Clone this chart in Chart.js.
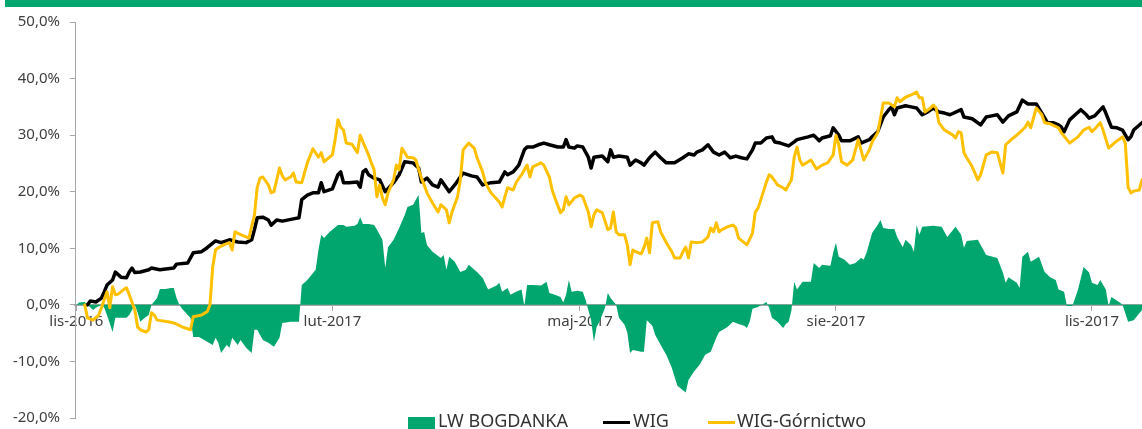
<!DOCTYPE html>
<html lang="pl">
<head>
<meta charset="utf-8">
<title>LW Bogdanka na tle WIG</title>
<script src="https://cdn.jsdelivr.net/npm/chart.js@4.4.1/dist/chart.umd.min.js"></script>
<style>
  html, body { margin: 0; padding: 0; background: #fff; overflow: hidden; }
  #wrap { position: relative; width: 1142px; height: 429px; overflow: hidden; font-family: "Noto Sans", sans-serif; }
  #topbar { position: absolute; left: 5px; top: 0; width: 1137px; height: 7px; background: #00A66E; }
  canvas { position: absolute; left: 0; top: 0; }
  .lg { position: absolute; top: 411px; font-size: 18px; line-height: 18px; color: #333; white-space: nowrap; }
  .mark { position: absolute; }
</style>
</head>
<body>
<div id="wrap">
  <canvas id="chart" width="1142" height="429"></canvas>
  <div id="topbar"></div>
  <div class="mark" style="left:408px; top:417px; width:27px; height:14px; background:#00A66E;"></div>
  <div class="lg" style="left:438px;">LW BOGDANKA</div>
  <div class="mark" style="left:603px; top:421px; width:27px; height:3px; background:#000;"></div>
  <div class="lg" style="left:633px;">WIG</div>
  <div class="mark" style="left:708px; top:421px; width:27px; height:3px; background:#FFC000;"></div>
  <div class="lg" style="left:737px;">WIG-Górnictwo</div>
</div>
<script>
// dni liczone od 2016-11-01 (dzień 0)
const tickDays = [0, 92, 181, 273, 365];
const tickLabels = ["lis-2016", "lut-2017", "maj-2017", "sie-2017", "lis-2017"];

// LW BOGDANKA - stopa zwrotu (%)
const bogDays = [0, 1, 3, 4, 6, 7, 9, 10, 11, 13, 14, 16, 18, 19, 20, 21, 22, 23, 24, 26, 27, 29, 30, 32, 34, 35, 36, 37, 38, 40,
  41, 42, 44, 46, 47, 49, 50, 51, 52, 54, 55, 56, 58, 59, 61, 63, 64, 65, 67, 69, 71, 73, 74, 77, 80, 81, 83, 86, 87, 88,
  89, 91, 94, 96, 97, 100, 101, 102, 103, 105, 107, 108, 110, 111, 112, 114, 116, 118, 119, 121, 122, 123, 124, 125, 126, 128, 131, 132, 133, 134,
  136, 138, 140, 141, 144, 146, 148, 151, 152, 153, 155, 156, 158, 160, 161, 162, 164, 167, 169, 170, 172, 174, 175, 176, 177, 178, 180, 182, 183, 185,
  186, 187, 188, 190, 191, 192, 194, 195, 197, 198, 199, 200, 203, 204, 205, 207, 208, 210, 212, 214, 216, 219, 220, 222, 224, 226, 228, 230, 231, 234,
  236, 238, 240, 241, 242, 243, 245, 247, 248, 249, 250, 252, 254, 255, 256, 257, 258, 259, 261, 264, 265, 267, 268, 271, 272, 273, 274, 276, 278, 280,
  282, 283, 284, 286, 288, 289, 290, 292, 294, 295, 297, 298, 300, 301, 302, 303, 304, 308, 311, 313, 316, 318, 319, 320, 324, 327, 331, 333, 334, 335,
  338, 339, 340, 342, 343, 346, 348, 350, 352, 353, 355, 356, 358, 360, 362, 364, 365, 367, 368, 370, 371, 372, 375, 376, 378, 380, 383];
const bogdanka = [0.0, 0.4, 0.5, 0.0, -0.9, -0.5, 0.0, -0.5, -1.8, -4.8, -2.3, -2.3, -2.3, -1.8, -0.9, 0.0, -1.4, -3.0, -2.5, -1.8, 0.0, 1.2, 2.8, 2.8, 3.0, 3.0, 1.2, 0.0, -0.7, -1.8,
  -2.3, -5.7, -5.7, -6.2, -6.5, -7.1, -5.8, -6.7, -8.5, -7.1, -7.6, -5.8, -7.1, -6.2, -7.6, -8.5, -4.4, -4.4, -6.2, -6.7, -7.4, -5.8, -3.2, -3.0, -3.0, 3.5, 4.4, 6.2, 9.7, 12.4,
  11.8, 12.9, 14.1, 14.1, 13.8, 14.0, 14.3, 15.5, 14.3, 14.3, 14.1, 13.3, 11.5, 6.5, 10.2, 11.5, 13.6, 15.9, 17.3, 17.7, 18.6, 19.4, 12.7, 12.9, 10.6, 9.4, 8.3, 8.8, 6.2, 8.5,
  7.6, 5.8, 6.2, 7.1, 5.8, 4.8, 2.7, 3.4, 3.9, 2.3, 3.0, 1.8, 2.3, 2.7, -0.2, 3.5, 3.5, 3.4, 4.1, 2.1, 1.8, 1.4, 0.4, 1.8, 4.4, 2.3, 2.5, 2.3, 0.9, -2.7,
  -6.5, -3.9, -3.0, -0.5, 2.1, 1.2, 0.0, -2.3, -3.5, -4.9, -8.5, -8.0, -8.3, -8.3, -2.7, -3.7, -5.3, -7.1, -8.8, -11.1, -14.3, -15.5, -13.3, -11.8, -10.6, -8.8, -8.3, -5.8, -4.8, -3.9,
  -3.0, -3.4, -3.7, -4.1, -3.0, -0.7, -0.4, 0.2, 0.5, -0.5, -2.3, -3.0, -4.1, -3.4, -3.0, -1.0, 4.1, 2.7, 4.1, 4.1, 7.4, 6.5, 7.1, 6.9, 9.2, 11.0, 8.5, 8.0, 7.1, 7.4,
  8.3, 8.0, 9.2, 12.7, 14.1, 15.0, 13.6, 13.4, 13.4, 12.0, 10.2, 11.5, 10.6, 9.4, 14.1, 12.4, 13.8, 14.0, 13.8, 12.0, 13.8, 12.4, 10.1, 11.3, 11.5, 8.8, 8.3, 5.7, 3.9, 4.9,
  3.9, 3.0, 8.5, 9.4, 7.6, 8.5, 5.8, 4.9, 4.4, 2.7, 2.3, -0.2, -0.2, 2.7, 6.7, 5.7, 3.9, 3.5, 4.4, 2.7, -0.2, 1.4, 0.4, 0.0, -3.0, -2.7, -0.9];

// WIG (%)
const wigDays = [4, 5, 7, 9, 10, 11, 13, 14, 16, 18, 19, 20, 21, 23, 26, 27, 30, 35, 36, 40, 42, 45, 47, 50, 52, 55, 58, 61, 63, 64,
  65, 67, 69, 70, 72, 74, 78, 80, 81, 83, 85, 87, 88, 89, 92, 94, 95, 96, 98, 101, 102, 103, 104, 105, 107, 109, 111, 114, 116, 118,
  121, 123, 124, 126, 128, 130, 131, 132, 134, 136, 139, 142, 144, 146, 149, 152, 154, 155, 157, 159, 161, 162, 164, 166, 168, 170, 173, 175, 176, 177,
  179, 180, 182, 184, 185, 186, 189, 191, 192, 193, 195, 198, 199, 201, 203, 204, 206, 208, 210, 212, 215, 218, 220, 222, 223, 225, 227, 229, 231, 233,
  235, 237, 239, 241, 243, 244, 246, 248, 250, 251, 253, 256, 258, 259, 263, 265, 267, 268, 271, 272, 274, 275, 278, 281, 282, 285, 286, 288, 290, 292,
  293, 294, 295, 298, 300, 302, 304, 306, 308, 310, 312, 314, 318, 319, 322, 325, 327, 329, 331, 333, 335, 338, 340, 342, 345, 347, 349, 351, 353, 354,
  355, 357, 359, 361, 363, 364, 366, 369, 370, 372, 374, 376, 378, 379, 380, 383];
const wig = [0.0, 0.7, 0.5, 1.2, 2.3, 3.5, 4.4, 5.8, 4.9, 4.8, 5.8, 6.5, 5.7, 5.8, 6.2, 6.5, 6.2, 6.5, 7.2, 7.4, 9.2, 9.4, 10.1, 11.3, 11.0, 11.5, 11.1, 11.0, 11.5, 13.3,
  15.4, 15.5, 15.0, 14.1, 15.0, 14.8, 15.2, 15.4, 18.6, 19.4, 19.8, 19.8, 21.6, 20.0, 20.5, 23.0, 23.5, 21.6, 21.6, 21.7, 20.8, 23.5, 23.9, 23.0, 22.4, 22.1, 20.0, 21.6, 23.0, 25.3,
  25.1, 24.2, 21.7, 22.4, 21.2, 20.8, 22.1, 21.4, 20.0, 21.2, 23.3, 22.8, 22.6, 21.2, 21.6, 21.7, 23.5, 23.0, 23.5, 24.7, 27.4, 27.9, 27.9, 28.3, 28.6, 28.3, 27.9, 27.9, 29.2, 27.9,
  27.7, 28.1, 27.9, 26.1, 24.2, 26.1, 26.3, 25.3, 27.4, 26.1, 26.3, 26.1, 24.7, 25.6, 25.1, 24.7, 26.0, 27.0, 26.0, 25.1, 25.1, 26.0, 26.7, 26.5, 27.0, 27.4, 28.3, 27.0, 26.5, 27.0,
  26.0, 26.3, 26.0, 25.8, 27.4, 28.6, 28.6, 29.5, 29.7, 28.8, 28.6, 28.1, 28.8, 29.2, 29.7, 30.0, 29.0, 29.5, 29.9, 31.3, 30.0, 29.0, 29.0, 29.7, 28.6, 29.2, 29.7, 30.6, 33.2, 34.5,
  35.0, 33.6, 34.8, 35.2, 35.0, 34.8, 33.6, 34.1, 34.8, 34.1, 33.9, 33.6, 34.5, 33.2, 32.9, 31.8, 33.2, 33.4, 33.6, 32.3, 33.4, 34.1, 36.2, 35.5, 35.5, 33.9, 32.2, 32.2, 31.8, 31.4,
  30.6, 32.7, 33.6, 34.5, 33.6, 33.0, 33.4, 35.0, 33.9, 31.4, 31.3, 30.9, 29.2, 29.7, 30.9, 32.2];

// WIG-Górnictwo (%)
const gornDays = [3, 4, 6, 8, 9, 11, 12, 13, 14, 15, 17, 18, 19, 21, 22, 23, 25, 26, 27, 28, 29, 33, 35, 36, 38, 41, 42, 45, 47, 48,
  49, 50, 51, 53, 55, 56, 57, 59, 61, 62, 64, 65, 66, 67, 69, 70, 71, 73, 74, 75, 77, 78, 79, 81, 83, 85, 87, 88, 89, 92,
  93, 94, 95, 96, 97, 99, 101, 102, 103, 105, 106, 107, 108, 109, 110, 111, 112, 114, 115, 116, 117, 119, 121, 122, 124, 125, 126, 128, 130, 131,
  133, 134, 135, 137, 138, 139, 141, 143, 144, 146, 147, 149, 152, 153, 154, 155, 157, 158, 160, 162, 163, 164, 167, 168, 170, 171, 172, 174, 175, 176,
  177, 179, 181, 182, 184, 185, 186, 187, 189, 191, 192, 193, 194, 195, 197, 198, 199, 200, 201, 203, 204, 205, 206, 207, 209, 210, 212, 214, 215, 217,
  218, 219, 220, 221, 223, 225, 227, 228, 229, 230, 231, 232, 234, 236, 237, 238, 240, 241, 243, 244, 245, 246, 248, 249, 250, 252, 254, 255, 257, 258,
  259, 260, 261, 263, 264, 266, 268, 270, 272, 273, 274, 275, 277, 279, 281, 282, 283, 285, 286, 288, 289, 290, 292, 294, 295, 296, 298, 300, 302, 303,
  304, 305, 307, 308, 309, 310, 312, 315, 316, 317, 318, 319, 320, 322, 324, 325, 327, 329, 331, 333, 334, 336, 338, 340, 341, 342, 343, 345, 347, 348,
  350, 353, 354, 356, 357, 360, 362, 364, 365, 366, 368, 369, 371, 373, 376, 377, 378, 379, 380, 382, 383];
const gornictwo = [0.0, -2.3, -2.7, -1.8, -0.5, 2.3, -0.5, 3.2, 1.8, 1.9, 2.7, 3.0, 1.8, -0.9, -3.9, -4.4, -4.8, -4.4, -1.4, -1.8, -2.7, -3.0, -3.2, -3.4, -3.9, -4.4, -2.1, -1.8, -1.2, 0.0,
  6.7, 9.7, 10.1, 10.6, 11.0, 9.7, 12.9, 12.4, 12.0, 11.8, 15.9, 20.8, 22.4, 22.6, 21.2, 19.8, 20.0, 24.2, 22.8, 22.1, 22.6, 23.3, 21.7, 21.6, 25.1, 27.6, 26.1, 26.9, 25.3, 26.5,
  29.2, 32.7, 31.4, 30.9, 28.6, 28.4, 26.9, 30.0, 28.8, 26.5, 25.1, 23.9, 19.1, 21.2, 18.9, 17.7, 19.8, 22.1, 24.7, 23.9, 27.7, 26.1, 26.0, 25.6, 22.4, 21.2, 19.8, 18.0, 16.4, 17.7,
  16.8, 14.5, 16.4, 19.1, 22.1, 27.4, 28.6, 27.7, 26.0, 23.5, 21.6, 19.8, 18.2, 17.3, 19.1, 20.7, 20.3, 21.6, 23.0, 24.7, 22.6, 24.4, 25.1, 24.7, 22.6, 20.3, 18.9, 16.3, 16.8, 19.1,
  17.7, 18.9, 19.4, 19.1, 16.4, 13.8, 15.9, 16.8, 16.3, 13.3, 13.6, 16.4, 12.9, 12.4, 12.4, 10.6, 7.1, 9.7, 9.4, 9.0, 10.1, 11.8, 9.2, 14.5, 14.7, 12.9, 11.0, 9.4, 8.3, 8.3,
  9.4, 10.2, 8.3, 11.1, 11.0, 11.1, 12.0, 13.6, 12.9, 14.5, 12.9, 13.3, 13.8, 14.1, 13.6, 11.8, 11.0, 10.6, 12.7, 16.4, 17.1, 18.6, 21.7, 23.0, 22.6, 21.2, 20.7, 20.3, 22.1, 26.1,
  27.9, 25.6, 24.7, 25.3, 25.6, 24.0, 24.7, 25.1, 26.5, 30.0, 28.3, 25.3, 24.7, 25.6, 29.2, 27.4, 25.6, 27.4, 28.8, 30.4, 33.0, 35.7, 35.7, 35.0, 36.6, 35.9, 36.7, 37.1, 37.6, 36.6,
  36.6, 34.1, 34.8, 35.3, 34.8, 32.2, 30.9, 30.0, 29.5, 30.6, 30.4, 26.9, 26.0, 24.4, 22.1, 23.0, 26.5, 27.0, 26.9, 23.3, 28.3, 29.2, 30.0, 30.9, 31.4, 32.3, 31.3, 34.8, 33.6, 32.2,
  32.0, 31.3, 30.4, 29.2, 28.6, 29.7, 30.9, 31.4, 30.6, 31.1, 32.2, 30.9, 27.7, 28.6, 29.7, 28.6, 20.8, 19.8, 20.1, 20.3, 22.1];

const green = "#00A66E";
const axisGray = "#A6A6A6";

function toPoints(days, values) {
  return days.map((d, i) => ({ x: d, y: values[i] }));
}

function pct(v) {
  return v.toFixed(1).replace(".", ",") + "%";
}

Chart.defaults.font.family = '"Noto Sans", sans-serif';

new Chart(document.getElementById("chart").getContext("2d"), {
  type: "line",
  data: {
    datasets: [
      {
        label: "LW BOGDANKA",
        data: toPoints(bogDays, bogdanka),
        fill: "origin",
        backgroundColor: green,
        borderWidth: 0,
        pointRadius: 0,
        order: 2
      },
      {
        label: "WIG",
        data: toPoints(wigDays, wig),
        borderColor: "#000000",
        borderWidth: 3.5,
        borderJoinStyle: "round",
        borderCapStyle: "round",
        pointRadius: 0,
        fill: false,
        order: 1
      },
      {
        label: "WIG-Górnictwo",
        data: toPoints(gornDays, gornictwo),
        borderColor: "#FFC000",
        borderWidth: 3,
        borderJoinStyle: "round",
        borderCapStyle: "round",
        pointRadius: 0,
        fill: false,
        order: 0
      }
    ]
  },
  options: {
    responsive: false,
    animation: false,
    devicePixelRatio: 1,
    events: [],
    layout: { padding: { top: 22, bottom: 11, left: 0, right: 0 } },
    plugins: {
      legend: { display: false },
      tooltip: { enabled: false }
    },
    scales: {
      x: {
        type: "linear",
        position: { y: 0 },
        min: -0.5,
        max: 383,
        offset: false,
        grid: { drawOnChartArea: false, tickLength: 5, color: axisGray, lineWidth: 1 },
        border: { color: axisGray, width: 2 },
        ticks: {
          autoSkip: false,
          maxRotation: 0,
          padding: 3,
          color: "#404040",
          font: { size: 15 },
          callback: (v) => {
            const i = tickDays.indexOf(v);
            return i >= 0 ? tickLabels[i] : "";
          }
        },
        afterBuildTicks: (scale) => {
          scale.ticks = tickDays.map((d) => ({ value: d }));
        }
      },
      y: {
        min: -20,
        max: 50,
        grid: { drawOnChartArea: false, tickLength: 5, color: axisGray, lineWidth: 1 },
        border: { color: axisGray, width: 1 },
        ticks: {
          stepSize: 10,
          padding: 10,
          color: "#404040",
          font: { size: 15 },
          callback: (v) => pct(v)
        },
        afterFit: (scale) => {
          // stała szerokość osi i bez dodatkowego marginesu nad/pod wykresem
          scale.width = 75;
          scale.paddingTop = 0;
          scale.paddingBottom = 0;
        }
      }
    }
  }
});
</script>
</body>
</html>
